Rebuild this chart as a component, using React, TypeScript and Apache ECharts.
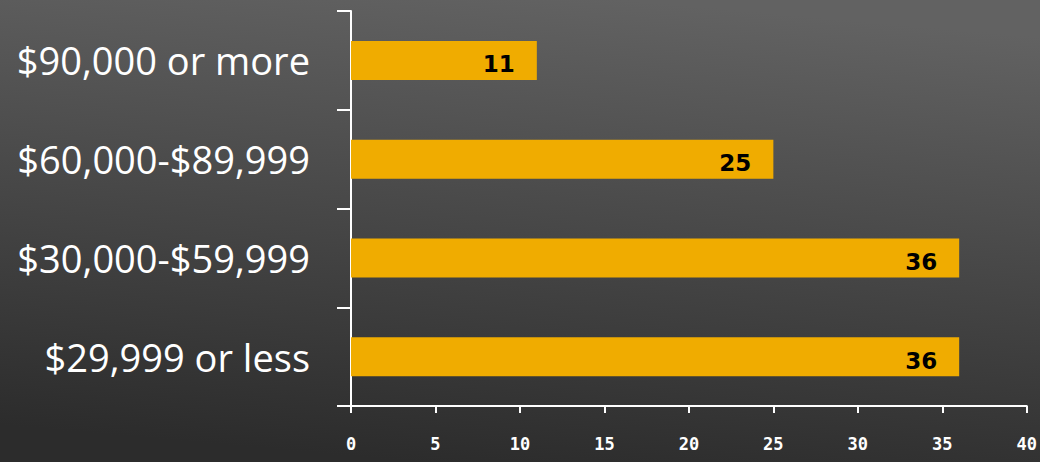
import React, { useEffect, useRef } from "react";
import * as echarts from "echarts";

const categories = ["$29,999 or less", "$30,000-$59,999", "$60,000-$89,999", "$90,000 or more"];
const values = [36, 36, 25, 11];
const xTicks = { min: 0, max: 40, interval: 5 };

export default function App() {
  const ref = useRef<HTMLDivElement>(null);
  useEffect(() => {
    const chart = echarts.init(ref.current!, null, { renderer: "svg" });
    chart.setOption({
      animation: false,
      backgroundColor: {
        type: "linear",
        x: 0.6, y: 0, x2: 0.4, y2: 1,
        colorStops: [
          { offset: 0, color: "#626262" },
          { offset: 1, color: "#2c2c2c" },
        ],
      },
      grid: { left: 351, right: 13, top: 11, bottom: 56, containLabel: false },
      xAxis: {
        type: "value",
        min: xTicks.min,
        max: xTicks.max,
        interval: xTicks.interval,
        splitLine: { show: false },
        axisLine: { show: true, lineStyle: { color: "#ffffff", width: 2 } },
        axisTick: { show: true, length: 7, lineStyle: { color: "#ffffff", width: 2 } },
        axisLabel: {
          color: "#ffffff",
          fontFamily: "DejaVu Sans Mono",
          fontWeight: "bold",
          fontSize: 17,
          margin: 29,
        },
      },
      yAxis: {
        type: "category",
        data: categories,
        axisLine: { show: true, lineStyle: { color: "#ffffff", width: 2 } },
        axisTick: { show: true, length: 14, lineStyle: { color: "#ffffff", width: 2 } },
        axisLabel: {
          color: "#ffffff",
          fontFamily: "Open Sans",
          fontWeight: 500,
          fontSize: 38,
          margin: 41,
        },
      },
      series: [
        {
          type: "bar",
          data: values,
          barWidth: 39,
          itemStyle: { color: "#f0ac00" },
          label: {
            show: true,
            position: "insideRight",
            distance: 22,
            offset: [0, 4],
            color: "#000000",
            fontWeight: "bold",
            fontFamily: "DejaVu Sans",
            fontSize: 23,
          },
        },
      ],
    });
    return () => chart.dispose();
  }, []);
  return (
    <div
      ref={ref}
      style={{ position: "fixed", left: 0, top: 0, width: 1040, height: 462 }}
    />
  );
}
